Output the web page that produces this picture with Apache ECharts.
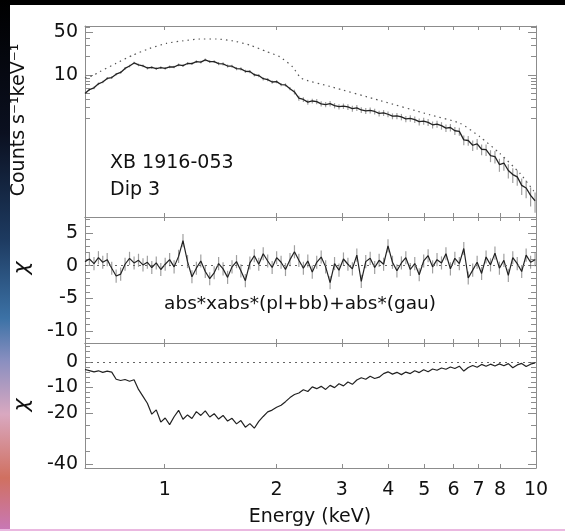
<!DOCTYPE html>
<html><head><meta charset="utf-8">
<script src="https://cdn.jsdelivr.net/npm/echarts@6/dist/echarts.min.js"></script>
<style>html,body{margin:0;padding:0;background:#fff}#c{width:565px;height:531px}</style>
</head><body><div id="c"></div>
<script>
// ---- data ----
const energy = [0.610,0.627,0.645,0.663,0.681,0.700,0.720,0.740,0.761,0.782,
 0.804,0.827,0.850,0.874,0.898,0.923,0.949,0.976,1.003,1.031,
 1.060,1.090,1.120,1.152,1.184,1.217,1.251,1.286,1.322,1.359,
 1.397,1.436,1.477,1.518,1.561,1.604,1.649,1.696,1.743,1.792,
 1.842,1.894,1.947,2.002,2.058,2.115,2.175,2.236,2.298,2.363,
 2.429,2.497,2.567,2.639,2.713,2.789,2.867,2.947,3.030,3.115,
 3.202,3.292,3.384,3.479,3.576,3.677,3.780,3.886,3.994,4.106,
 4.221,4.340,4.461,4.586,4.715,4.847,4.983,5.122,5.266,5.413,
 5.565,5.721,5.881,6.046,6.216,6.390,6.569,6.753,6.942,7.137,
 7.337,7.542,7.753,7.970,8.194,8.423,8.659,8.902,9.151,9.407,
 9.671,9.942];
const counts = [5.0,5.8,6.2,7.2,7.7,8.8,9.1,10.3,11.0,12.8,
 14.0,15.7,14.6,14.1,13.0,13.3,12.7,13.2,12.8,13.6,
 13.5,14.6,14.2,15.4,15.3,16.5,16.2,17.6,16.5,16.5,
 15.3,15.2,14.0,13.9,12.7,12.6,11.5,11.4,10.1,9.8,
 8.7,8.4,7.7,7.8,7.0,6.9,6.0,5.3,4.2,4.0,
 3.62,3.78,3.70,3.40,3.31,3.42,3.18,3.05,3.12,3.02,
 2.84,2.92,2.70,2.61,2.66,2.55,2.37,2.42,2.30,2.14,
 2.16,2.08,1.93,1.97,1.88,1.74,1.78,1.70,1.55,1.59,
 1.50,1.37,1.40,1.24,1.21,0.88,0.86,0.72,0.76,0.62,
 0.61,0.49,0.47,0.35,0.37,0.28,0.24,0.22,0.16,0.145,
 0.11,0.09];
const countsErrPct = [5,5,5,5,5,5,5,5,5,5,
 5,5,5,5,5,5,5,5,5,5,
 5,5,5,5,5,5,5,5,5,5,
 6,6,6,6,6,6,6,6,6,6,
 6,6,6,6,6,6,6,9,9,9,
 9,9,10,10,10,10,10,10,10,11,
 11,11,11,11,11,11,11,11,11,11,
 12,12,12,12,12,13,13,13,13,13,
 14,14,14,15,15,18,18,19,20,20,
 21,22,23,24,25,26,27,28,30,32,
 34,36];
const modelE = [0.61,0.64,0.668,0.74,0.82,0.91,1.012,1.12,1.243,1.38,1.525,1.695,1.883,2.04,2.21,2.334,2.78,3.8,5.17,6.24,7.06,7.99,9.06,9.82,10];
const modelV = [9.0,9.8,11.3,15.5,21,27,32.8,36,38.5,38.5,36,30.7,24,19.8,13.6,8.84,6.55,3.85,2.26,1.64,0.99,0.53,0.25,0.134,0.115];
const residFit = [0.6,1.0,0.3,1.2,0.5,0.9,-0.4,-1.6,-1.3,0.2,
 1.1,0.4,0.8,0.1,0.5,-0.3,0.4,-0.6,0.2,0.9,
 -0.2,1.4,3.8,0.6,-1.7,-0.4,0.7,-0.9,-2.0,-1.1,
 0.3,-0.5,-1.8,-0.2,0.6,-0.8,-2.3,0.4,1.5,0.2,
 1.8,0.7,-0.3,1.2,0.5,-0.6,0.9,2.1,0.8,-0.4,
 0.7,-1.0,0.5,1.3,-0.2,-2.6,0.3,-0.7,1.0,0.2,
 -0.5,1.6,-2.4,0.6,1.1,-0.3,0.8,0.2,3.0,0.5,
 -0.8,0.4,1.2,-0.6,0.3,-1.4,0.7,1.5,-0.2,0.9,
 0.4,1.8,-0.5,1.1,0.3,2.6,-1.9,-0.7,0.5,-1.2,
 1.3,0.1,1.9,-0.4,0.8,-1.5,1.2,0.3,-0.9,1.6,
 0.5,0.9];
const residNoGau = [-3.0,-3.4,-3.9,-3.5,-4.1,-3.6,-4.0,-6.8,-7.3,-6.9,
 -7.6,-7.0,-10.8,-13.5,-16.2,-20.5,-18.8,-23.6,-22.0,-24.6,
 -21.5,-19.0,-22.5,-20.8,-22.2,-19.5,-21.0,-19.2,-21.6,-20.3,
 -22.4,-21.0,-23.2,-22.1,-24.3,-23.0,-25.6,-24.2,-26.0,-23.3,
 -21.4,-19.6,-18.9,-17.8,-17.0,-15.6,-14.0,-12.8,-12.2,-10.9,
 -11.6,-9.8,-10.5,-9.6,-10.8,-9.2,-10.1,-8.6,-9.4,-7.9,
 -8.8,-7.1,-6.2,-6.8,-5.6,-6.5,-6.0,-4.6,-3.9,-4.8,
 -4.1,-5.0,-4.0,-4.6,-3.5,-4.2,-3.1,-3.9,-2.8,-3.3,
 -2.4,-2.9,-2.0,-2.6,-1.7,-3.6,-2.2,-1.4,-2.1,-1.0,
 -1.7,-0.9,-1.6,-0.8,-1.5,-0.7,-2.3,-1.2,-0.6,-1.8,
 -0.9,-0.4];
const xTicks = [1,2,3,4,5,6,7,8,9,10];
const yTopLabels = [10,50];
const yTopMinor = [2,3,4,5,6,7,8,9,20,30,40,60];
const yMidLabels = [-10,-5,0,5];
const yMidMinor = [-11,-9,-8,-7,-6,-4,-3,-2,-1,1,2,3,4,6,7];
const yBotLabels = [-40,-20,-10,0];
const yBotMinor = [-35,-30,-25,-18,-16,-14,-12,-8,-6,-4,-2,2,4,6];

// ---- chart ----
const FONT = 'DejaVu Sans';
const AX = '#8c8c8c';
const xMin = 0.61, xMax = 10;
const grids = [
  {left:85, right:29, top:26, height:191},
  {left:85, right:29, top:217, height:126},
  {left:85, right:29, top:343, height:125}
];
const yCfg = [
  {type:'log', min:0.049, max:62.7, labels:yTopLabels, minor:yTopMinor},
  {type:'value', min:-11.8, max:7.4, labels:yMidLabels, minor:yMidMinor},
  {type:'value', min:-41.6, max:7.4, labels:yBotLabels, minor:yBotMinor}
];
const xAxis = [], yAxis = [];
for (let g = 0; g < 3; g++) {
  ['bottom','top'].forEach(pos => {
    xAxis.push({
      type:'log', logBase:10, gridIndex:g, position:pos, min:xMin, max:xMax,
      axisLine:{show:true, onZero:false, lineStyle:{color:AX, width:1}},
      axisTick:{show:true, inside:true, length:4, customValues:xTicks, lineStyle:{color:AX}},
      axisLabel:{show:(g === 2 && pos === 'bottom'), customValues:xTicks, fontFamily:FONT, fontSize:19,
        color:'#111', margin:13, showMinLabel:true, showMaxLabel:true, hideOverlap:false,
        formatter:v => String(Math.round(v))},
      splitLine:{show:false}
    });
  });
  const c = yCfg[g];
  ['left','right'].forEach(pos => {
    yAxis.push({
      type:c.type, logBase:10, gridIndex:g, position:pos, min:c.min, max:c.max,
      axisLine:{show:true, onZero:false, lineStyle:{color:AX, width:1}},
      axisTick:{show:true, inside:true, length:8, customValues:c.labels, lineStyle:{color:AX}},
      axisLabel:{show:pos === 'left', customValues:c.labels, fontFamily:FONT, fontSize:19, color:'#111', margin:7,
        showMinLabel:true, showMaxLabel:true, formatter:v => String(Math.round(v))},
      splitLine:{show:false}
    });
    yAxis.push({
      type:c.type, logBase:10, gridIndex:g, position:pos, min:c.min, max:c.max,
      axisLine:{show:false},
      axisTick:{show:true, inside:true, length:5, customValues:c.minor, lineStyle:{color:AX}},
      axisLabel:{show:false},
      splitLine:{show:false}
    });
  });
}

function errBar(params, api) {
  const x = api.value(0);
  const p1 = api.coord([x, api.value(1)]);
  const p2 = api.coord([x, api.value(2)]);
  return {type:'line', shape:{x1:p1[0], y1:p1[1], x2:p2[0], y2:p2[1]},
    style:{stroke:'#a0a0a0', lineWidth:1.2}};
}
const zeroLine = {silent:true, symbol:'none', label:{show:false},
  lineStyle:{type:[2,4], color:'#666', width:1}, data:[{yAxis:0}]};

const series = [
  {type:'custom', xAxisIndex:0, yAxisIndex:0, renderItem:errBar, clip:true, silent:true, z:1,
   encode:{x:0, y:[1,2]},
   data:energy.map((e,i) => [e, counts[i]*(1-countsErrPct[i]/100), counts[i]*(1+countsErrPct[i]/100)])},
  {type:'line', xAxisIndex:0, yAxisIndex:0, showSymbol:false, z:3,
   lineStyle:{color:'#222', width:1.3}, data:energy.map((e,i) => [e, counts[i]])},
  {type:'line', xAxisIndex:0, yAxisIndex:0, showSymbol:false, smooth:0.2, z:2,
   lineStyle:{color:'#555', width:1.2, type:[1.5,4]}, data:modelE.map((e,i) => [e, modelV[i]])},
  {type:'custom', xAxisIndex:2, yAxisIndex:4, renderItem:errBar, clip:true, silent:true, z:1,
   encode:{x:0, y:[1,2]},
   data:energy.map((e,i) => [e, residFit[i]-1, residFit[i]+1])},
  {type:'line', xAxisIndex:2, yAxisIndex:4, showSymbol:false, z:3,
   lineStyle:{color:'#222', width:1.2}, data:energy.map((e,i) => [e, residFit[i]]), markLine:zeroLine},
  {type:'line', xAxisIndex:4, yAxisIndex:8, showSymbol:false, z:3,
   lineStyle:{color:'#222', width:1.2}, data:energy.map((e,i) => [e, residNoGau[i]]), markLine:zeroLine}
];

const txt = (s, x, y, extra) => Object.assign({type:'text', x:x, y:y, silent:true,
  style:Object.assign({text:s, fontFamily:FONT, fontSize:19, fill:'#111', textVerticalAlign:'middle'}, extra || {})});

const graphic = [
  {type:'rect', shape:{x:0, y:0, width:565, height:5}, style:{fill:'#000'}, z:-10, silent:true},
  {type:'rect', shape:{x:0, y:0, width:10, height:531}, silent:true, z:-10,
   style:{fill:new echarts.graphic.LinearGradient(0,0,0,1,[
     {offset:0, color:'#000000'}, {offset:0.25, color:'#0b1020'}, {offset:0.45, color:'#1d3a60'},
     {offset:0.6, color:'#3c72a6'}, {offset:0.68, color:'#8a8fc0'}, {offset:0.78, color:'#d9a8c0'},
     {offset:0.9, color:'#d07060'}, {offset:1, color:'#c878b8'}])}},
  {type:'rect', shape:{x:0, y:529, width:565, height:2}, style:{fill:'#eab8e0'}, z:-10, silent:true},
  txt('XB 1916-053', 110, 163),
  txt('Dip 3', 110, 190),
  txt('abs*xabs*(pl+bb)+abs*(gau)', 300, 304, {textAlign:'center', fontSize:18.5}),
  txt('Energy (keV)', 310, 517, {textAlign:'center'}),
  {type:'text', x:19, y:120, rotation:Math.PI/2, silent:true,
   style:{text:'Counts s\u207B\u00B9keV\u207B\u00B9', fontFamily:FONT, fontSize:19, fill:'#111',
     textAlign:'center', textVerticalAlign:'middle'}},
  {type:'text', x:22, y:268, rotation:Math.PI/2, silent:true,
   style:{text:'\u03C7', fontFamily:FONT, fontSize:22, fontStyle:'italic', fill:'#111', textAlign:'center', textVerticalAlign:'middle'}},
  {type:'text', x:22, y:405, rotation:Math.PI/2, silent:true,
   style:{text:'\u03C7', fontFamily:FONT, fontSize:22, fontStyle:'italic', fill:'#111', textAlign:'center', textVerticalAlign:'middle'}}
];

const chart = echarts.init(document.getElementById('c'));
chart.setOption({
  animation:false,
  backgroundColor:'#ffffff',
  grid:grids,
  xAxis:xAxis,
  yAxis:yAxis,
  series:series,
  graphic:graphic
});
</script></body></html>
